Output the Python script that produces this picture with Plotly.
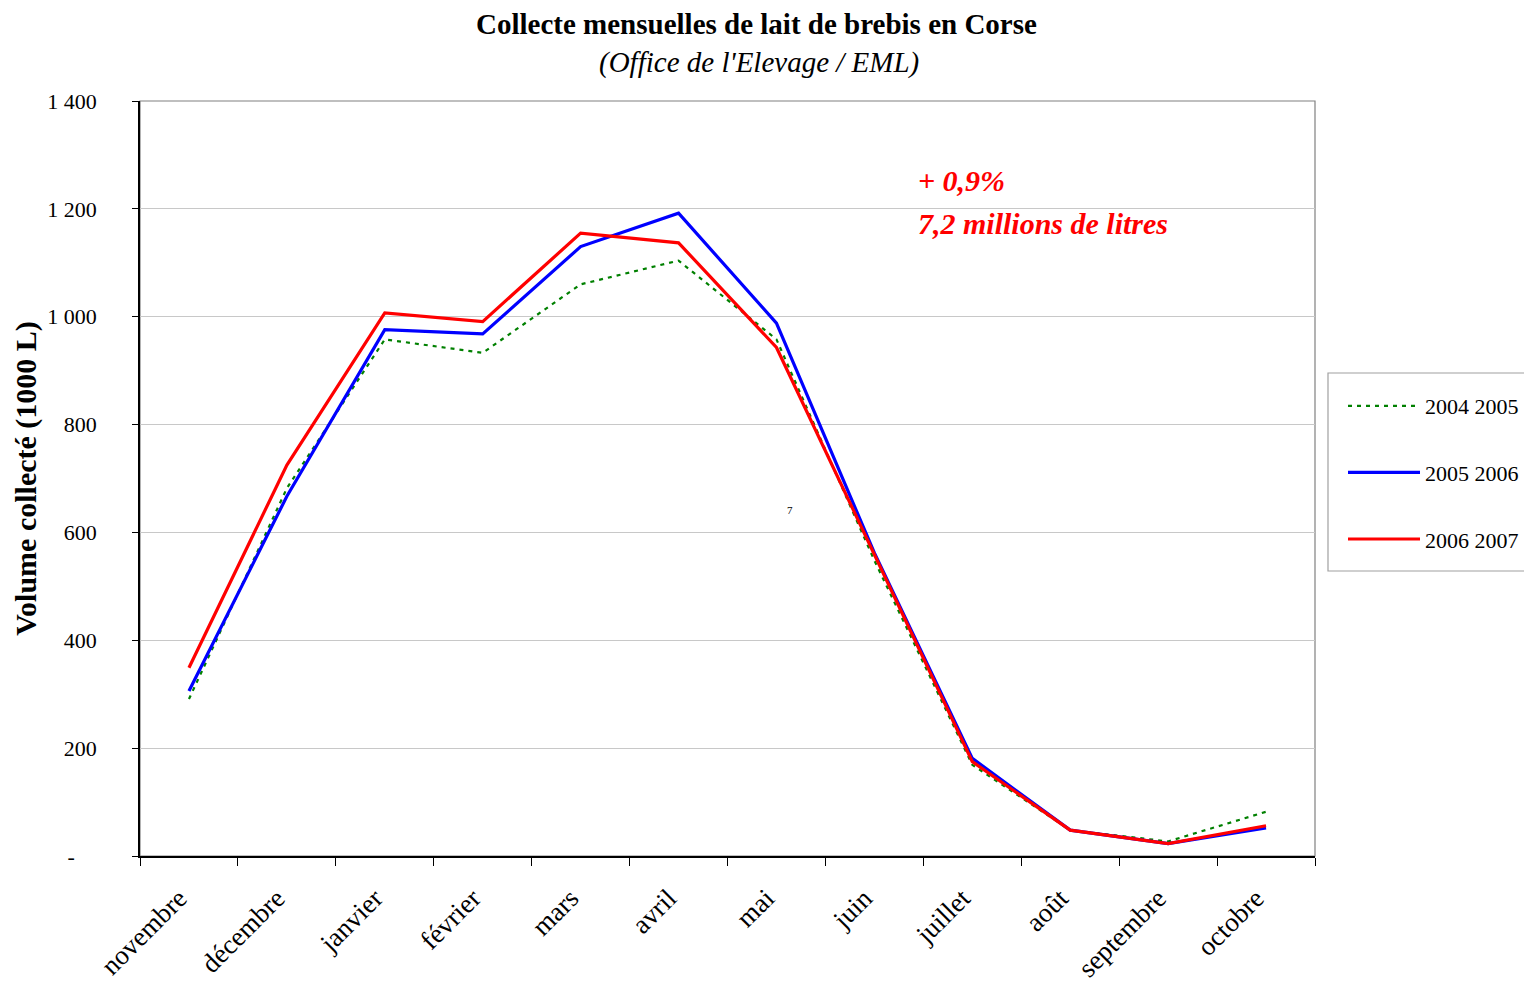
import plotly.graph_objects as go

months = ["novembre", "décembre", "janvier", "février", "mars", "avril", "mai",
          "juin", "juillet", "août", "septembre", "octobre"]
s_2004_2005 = [291, 682, 958, 933, 1060, 1104, 958, 548, 169, 48, 27, 82]
s_2005_2006 = [306, 667, 976, 968, 1130, 1192, 988, 562, 181, 48, 23, 52]
s_2006_2007 = [349, 725, 1007, 991, 1155, 1137, 943, 560, 175, 48, 23, 56]
series_names = ["2004 2005", "2005 2006", "2006 2007"]
y_tickvals = [0, 200, 400, 600, 800, 1000, 1200, 1400]
y_ticktext = ["-\u00a0\u00a0\u00a0\u00a0", "200", "400", "600", "800", "1 000", "1 200", "1 400"]

FONT = "Liberation Serif"

fig = go.Figure()
fig.add_trace(go.Scatter(x=months, y=s_2004_2005, name=series_names[0], mode="lines",
                         line=dict(color="#008000", width=2.2, dash="4px,5px"),
                         legendgroup="a"))
fig.add_trace(go.Scatter(x=months, y=s_2005_2006, name=series_names[1], mode="lines",
                         line=dict(color="#0000FF", width=3.2),
                         legendgroup="b"))
fig.add_trace(go.Scatter(x=months, y=s_2006_2007, name=series_names[2], mode="lines",
                         line=dict(color="#FF0000", width=3.2),
                         legendgroup="c"))

# page body has an 8px margin
OFF = 8
W, H = 1532 - OFF, 986 - OFF
L, R, T, B = 140, 1315, 101, 856  # plot area in screen pixels

def px(x):
    return (x - L) / (R - L)

def py(y):
    return (B - y) / (B - T)

fig.update_layout(
    width=W, height=H,
    margin=dict(l=L - OFF, r=W - (R - OFF), t=T - OFF, b=H - (B - OFF), autoexpand=False),
    paper_bgcolor="white", plot_bgcolor="white",
    font=dict(family=FONT, color="black", size=22),
    showlegend=True,
    legend=dict(
        x=px(1343), y=py(385), xanchor="left", yanchor="top",
        font=dict(family=FONT, size=22, color="black"),
        bgcolor="rgba(0,0,0,0)", borderwidth=0,
        traceorder="grouped", tracegroupgap=35, itemwidth=72,
    ),
    xaxis=dict(
        type="category", range=[-0.5, 11.5], showgrid=False, showline=True,
        linecolor="black", linewidth=1.5,
        ticks="outside", ticklen=8, tickcolor="black", tickson="boundaries",
        tickangle=-45, tickfont=dict(family=FONT, size=27, color="black"),
        ticklabelstandoff=14, ticklabelshift=-10,
        zeroline=False,
    ),
    yaxis=dict(
        range=[0, 1400], tickvals=y_tickvals, ticktext=y_ticktext,
        showgrid=True, gridcolor="#c8c8c8", gridwidth=1,
        showline=True, linecolor="black", linewidth=1.5,
        ticks="outside", ticklen=6, tickcolor="black",
        ticklabelstandoff=31,
        tickfont=dict(family=FONT, size=22, color="black"),
        zeroline=False,
        title=dict(text="<b>Volume collecté (1000 L)</b>",
                   font=dict(family=FONT, size=30, color="black"), standoff=2),
    ),
    shapes=[
        dict(type="rect", xref="paper", yref="paper", x0=0, x1=1, y0=0, y1=1,
             line=dict(color="#808080", width=1.2), layer="below"),
        dict(type="rect", xref="paper", yref="paper", x0=px(1328), x1=px(1545),
             y0=py(571), y1=py(373), line=dict(color="#a0a0a0", width=1.2)),
    ],
    annotations=[
        dict(text="<b>Collecte mensuelles de lait de brebis en Corse</b>", xref="paper", yref="paper",
             x=px(756), y=py(24), xanchor="center", yanchor="middle", showarrow=False,
             font=dict(family=FONT, size=29, color="black")),
        dict(text="<i>(Office de l'Elevage / EML)</i>", xref="paper", yref="paper",
             x=px(759), y=py(62), xanchor="center", yanchor="middle", showarrow=False,
             font=dict(family=FONT, size=29, color="black")),
        dict(text="<b><i>+ 0,9%</i></b>", xref="paper", yref="paper",
             x=px(916), y=py(180), xanchor="left", yanchor="middle", showarrow=False,
             font=dict(family=FONT, size=30, color="#FF0000")),
        dict(text="<b><i>7,2 millions de litres</i></b>", xref="paper", yref="paper",
             x=px(916), y=py(224), xanchor="left", yanchor="middle", showarrow=False,
             font=dict(family=FONT, size=30, color="#FF0000")),
        dict(text="7", xref="paper", yref="paper",
             x=px(790), y=py(510), xanchor="center", yanchor="middle", showarrow=False,
             font=dict(family=FONT, size=11, color="black")),
    ],
)

fig.write_html("out.html")
